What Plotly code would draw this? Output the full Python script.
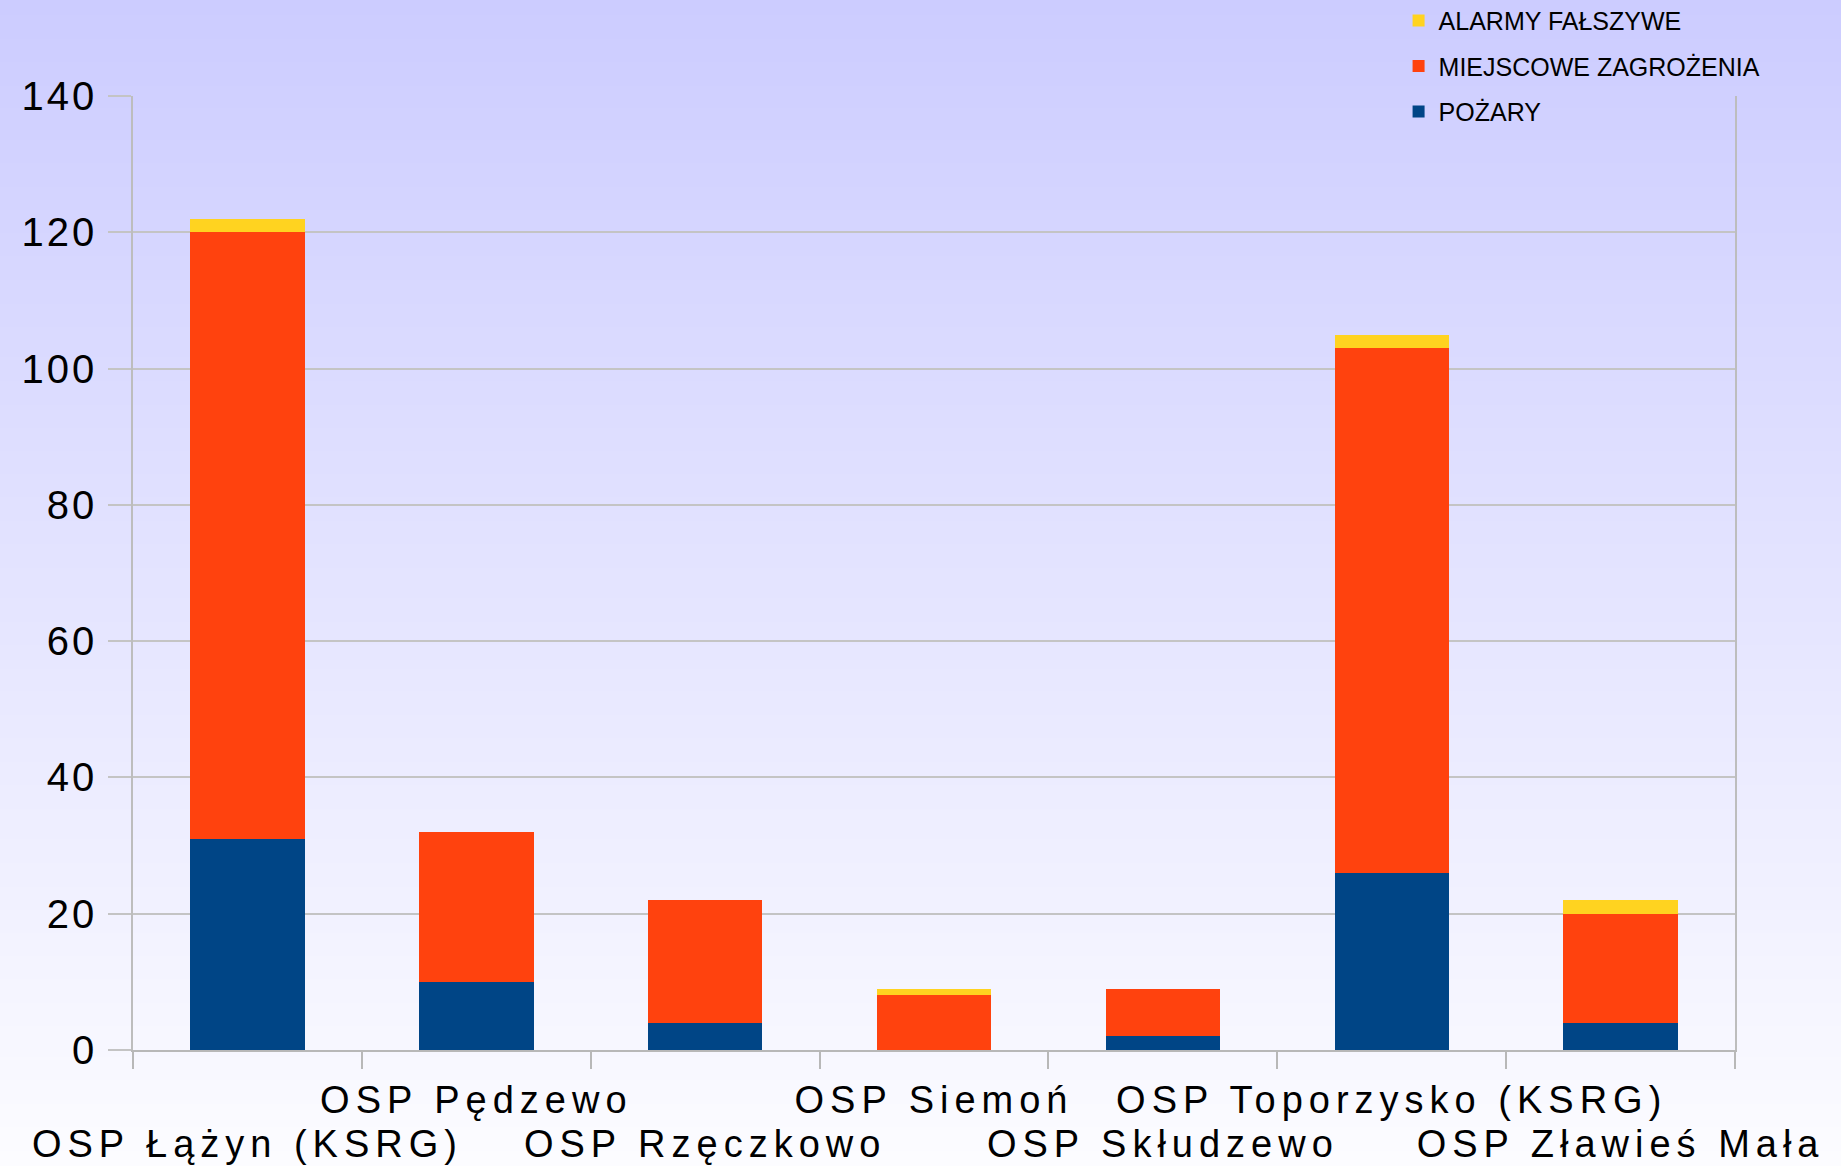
import plotly.graph_objects as go

categories = ["OSP Łążyn (KSRG)", "OSP Pędzewo", "OSP Rzęczkowo", "OSP Siemoń",
              "OSP Skłudzewo", "OSP Toporzysko (KSRG)", "OSP Zławieś Mała"]
pozary = [31, 10, 4, 0, 2, 26, 4]
miejscowe = [89, 22, 18, 8, 7, 77, 16]
falszywe = [2, 0, 0, 1, 0, 2, 2]
series_names = ["POŻARY", "MIEJSCOWE ZAGROŻENIA", "ALARMY FAŁSZYWE"]
series_colors = ["#004586", "#FF420E", "#FFD320"]
y_ticks = [0, 20, 40, 60, 80, 100, 120, 140]

W, H = 1841, 1166
ML, MR, MT, MB = 133, 106, 96, 116
PW, PH = W - ML - MR, H - MT - MB

fig = go.Figure()
for k, (name, vals, col) in enumerate(zip(series_names, [pozary, miejscowe, falszywe], series_colors)):
    fig.add_trace(go.Bar(x=categories, y=vals, name=name, marker_color=col,
                         marker_line_width=0, legendgroup=name,
                         legendrank=1000 - k))

# background vertical gradient (lavender -> white)
shapes = []
n = 150
top = (204, 204, 255)
bot = (252, 252, 255)
for i in range(n):
    t = i / (n - 1)
    c = tuple(round(top[k] + (bot[k] - top[k]) * t) for k in range(3))
    py0 = H * i / n
    py1 = H * (i + 1) / n + 1
    y0 = (H - py1 - MB) / PH
    y1 = (H - py0 - MB) / PH
    shapes.append(dict(type="rect", xref="paper", yref="paper",
                       x0=-ML / PW - 0.01, x1=(W - ML) / PW + 0.01, y0=y0, y1=y1,
                       fillcolor="rgb(%d,%d,%d)" % c, line_width=0, layer="below"))

ticktext = []
for i, c in enumerate(categories):
    lab = "<span style='font-size:38px;letter-spacing:6px'>%s</span>" % c
    ticktext.append("<br>" + lab if i % 2 == 0 else lab)

ytext = ["<span style='letter-spacing:3px'>%d</span>" % v for v in y_ticks]

fig.update_layout(
    width=W, height=H,
    barmode="stack", bargap=0.5,
    paper_bgcolor="white", plot_bgcolor="rgba(0,0,0,0)",
    margin=dict(l=ML, r=MR, t=MT, b=MB, autoexpand=False),
    shapes=shapes,
    font=dict(family="Liberation Sans, Arial, sans-serif", color="black"),
    legend=dict(x=0.79, xanchor="left", y=1.103, yanchor="top",
                traceorder="grouped", tracegroupgap=10,
                bgcolor="rgba(0,0,0,0)", font=dict(size=25)),
    xaxis=dict(tickmode="array", tickvals=categories, ticktext=ticktext,
               tickangle=0, tickson="boundaries", ticks="outside", ticklen=17,
               tickwidth=2, tickcolor="#B8B8B8", showline=True, linecolor="#B8B8B8",
               linewidth=2, showgrid=False, tickfont=dict(size=34),
               ticklabelstandoff=20,
               range=[-0.5, len(categories) - 0.5]),
    yaxis=dict(range=[0, 140], tickmode="array", tickvals=y_ticks, ticktext=ytext,
               showgrid=True, gridcolor="#C4C4C4",
               gridwidth=1.5, zeroline=False, showline=True, mirror=True,
               linecolor="#BDBDBD", linewidth=1.5, ticks="outside", ticklen=23,
               tickcolor="#C4C4C4", tickwidth=1.5, tickfont=dict(size=40),
               ticklabelstandoff=3),
)

fig.write_html("out.html", config={"displayModeBar": False},
               post_script="document.body.style.margin='0';")
